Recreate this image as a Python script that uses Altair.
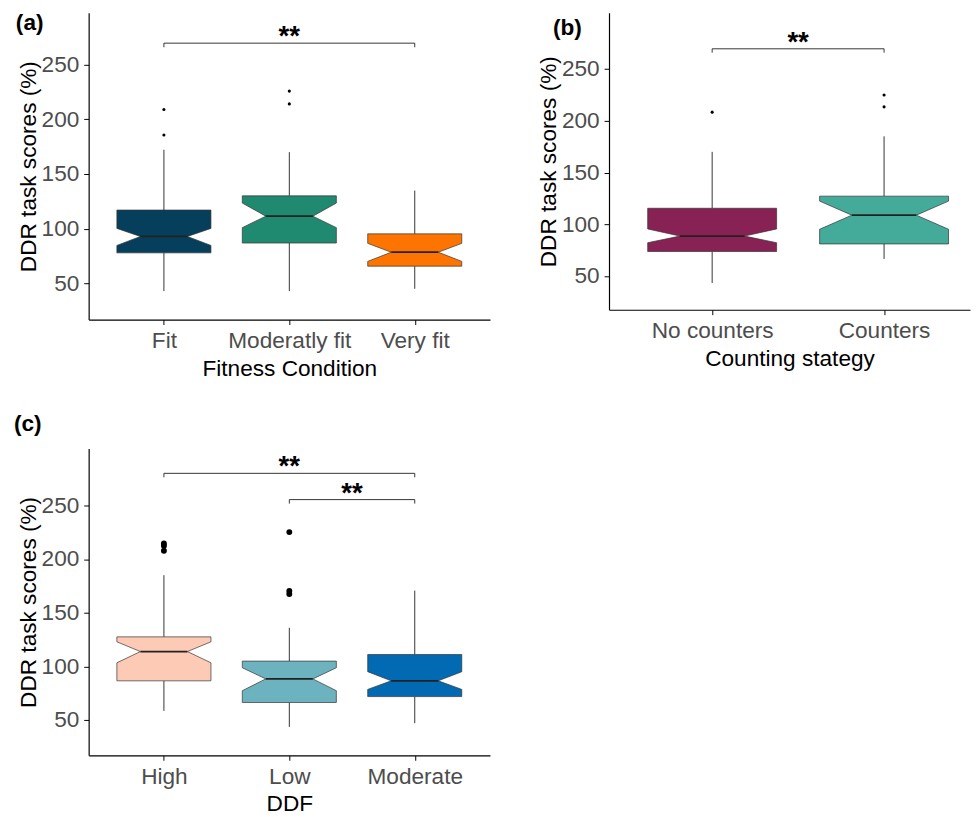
import altair as alt
import pandas as pd

FONT = "Liberation Sans"
Y_TICKS = [50, 100, 150, 200, 250]
Y_TITLE = "DDR task scores (%)"

# ---------------- Panel (a): Fitness Condition ----------------
a_cats = ["Fit", "Moderatly fit", "Very fit"]
a_colors = ["#053f5c", "#1f8a70", "#fd7400"]
a_q1 = [77.8, 86.8, 65.6]
a_notch_lo = [84.6, 100.9, 70.0]
a_median = [92.8, 111.4, 78.4]
a_notch_hi = [100.2, 123.4, 86.5]
a_q3 = [117.0, 130.0, 95.2]
a_whisk_lo = [42.8, 42.8, 44.9]
a_whisk_hi = [172.2, 170.0, 134.8]
a_out_cat = ["Fit", "Fit", "Moderatly fit", "Moderatly fit"]
a_out_val = [209.0, 185.7, 225.9, 214.2]
a_sig_from = ["Fit"]
a_sig_to = ["Very fit"]
a_sig_y = [269.8]
a_sig_lab = ["**"]

# ---------------- Panel (b): Counting stategy ----------------
b_cats = ["No counters", "Counters"]
b_colors = ["#882255", "#44aa99"]
b_q1 = [73.7, 81.0]
b_notch_lo = [82.2, 95.2]
b_median = [88.6, 108.8]
b_notch_hi = [95.5, 122.4]
b_q3 = [115.5, 127.2]
b_whisk_lo = [43.3, 66.5]
b_whisk_hi = [170.0, 185.0]
b_out_cat = ["No counters", "Counters", "Counters"]
b_out_val = [208.4, 224.9, 213.5]
b_sig_from = ["No counters"]
b_sig_to = ["Counters"]
b_sig_y = [269.6]
b_sig_lab = ["**"]

# ---------------- Panel (c): DDF ----------------
c_cats = ["High", "Low", "Moderate"]
c_colors = ["#fdcab6", "#6db3bf", "#016ab3"]
c_q1 = [86.5, 66.3, 71.8]
c_notch_lo = [103.3, 77.3, 78.5]
c_median = [113.8, 88.3, 86.5]
c_notch_hi = [122.9, 98.7, 95.0]
c_q3 = [127.5, 104.9, 111.0]
c_whisk_lo = [58.5, 43.5, 47.0]
c_whisk_hi = [185.0, 136.0, 170.6]
c_out_cat = ["High", "High", "High", "Low", "Low", "Low"]
c_out_val = [214.5, 212.5, 207.8, 225.2, 170.3, 167.5]
c_sig_from = ["High", "Low"]
c_sig_to = ["Moderate", "Moderate"]
c_sig_y = [280.0, 255.5]
c_sig_lab = ["**", "**"]

BOX_HALF = 0.375
NOTCH_HALF = 0.1875
TIP = 3.7


def panel(cats, colors, q1, nlo, med, nhi, q3, wlo, whi, out_cat, out_val,
          sig_from, sig_to, sig_y, sig_lab, xtitle, label, label_xy,
          ydom, xdom, width, height, pt_size):
    pos = {c: i + 1 for i, c in enumerate(cats)}
    lab_expr = " : ".join(
        f"datum.value == {i + 1} ? '{c}'" for i, c in enumerate(cats)) + " : ''"

    xs = alt.Scale(domain=xdom, nice=False, zero=False)
    ys = alt.Scale(domain=ydom, nice=False, zero=False)
    xax = alt.Axis(values=list(range(1, len(cats) + 1)), labelExpr=lab_expr,
                   title=xtitle, labelFlush=False, labelOverlap=False)
    yax = alt.Axis(values=Y_TICKS, title=Y_TITLE)

    def X(f):
        return alt.X(f, type="quantitative", scale=xs, axis=xax)

    def Y(f):
        return alt.Y(f, type="quantitative", scale=ys, axis=yax)

    rows = []
    for i, c in enumerate(cats):
        x = i + 1
        pts = [(q1[i], BOX_HALF), (nlo[i], BOX_HALF), (med[i], NOTCH_HALF),
               (nhi[i], BOX_HALF), (q3[i], BOX_HALF)]
        for y, h in pts:
            rows.append({"cat": c, "y": y, "xl": x - h, "xr": x + h,
                         "fill": colors[i]})
    boxdf = pd.DataFrame(rows)

    stats = pd.DataFrame({
        "cat": cats,
        "x": [pos[c] for c in cats],
        "mlo": [pos[c] - NOTCH_HALF for c in cats],
        "mhi": [pos[c] + NOTCH_HALF for c in cats],
        "q1": q1, "q3": q3, "med": med, "wlo": wlo, "whi": whi,
    })
    outdf = pd.DataFrame({"x": [pos[c] for c in out_cat], "v": out_val})
    sigdf = pd.DataFrame({
        "x1": [pos[c] for c in sig_from],
        "x2": [pos[c] for c in sig_to],
        "xm": [(pos[a] + pos[b]) / 2 for a, b in zip(sig_from, sig_to)],
        "y": sig_y,
        "ytip": [v - TIP for v in sig_y],
        "lab": sig_lab,
    })

    whisk_hi = alt.Chart(stats).mark_rule(color="#333333", strokeWidth=1).encode(
        x=X("x"), y=Y("q3"), y2="whi")
    whisk_lo = alt.Chart(stats).mark_rule(color="#333333", strokeWidth=1).encode(
        x=X("x"), y=Y("q1"), y2="wlo")
    box = alt.Chart(boxdf).mark_area(
        orient="horizontal", stroke="#333333", strokeWidth=0.7, opacity=1
    ).encode(
        y=Y("y"),
        x=alt.X("xl", type="quantitative", scale=xs, axis=xax, stack=None),
        x2="xr",
        fill=alt.Fill("fill:N", scale=None),
        detail="cat:N",
    )
    median = alt.Chart(stats).mark_rule(color="#222222", strokeWidth=1.8).encode(
        x=X("mlo"), x2="mhi", y=Y("med"))
    outl = alt.Chart(outdf).mark_circle(color="black", size=pt_size, opacity=1).encode(
        x=X("x"), y=Y("v"))
    br_h = alt.Chart(sigdf).mark_rule(color="#333333", strokeWidth=1).encode(
        x=X("x1"), x2="x2", y=Y("y"))
    br_l = alt.Chart(sigdf).mark_rule(color="#333333", strokeWidth=1).encode(
        x=X("x1"), y=Y("y"), y2="ytip")
    br_r = alt.Chart(sigdf).mark_rule(color="#333333", strokeWidth=1).encode(
        x=X("x2"), y=Y("y"), y2="ytip")
    stars = alt.Chart(sigdf).mark_text(
        font=FONT, fontSize=28, fontWeight="bold", color="black",
        baseline="alphabetic", dy=2
    ).encode(x=X("xm"), y=Y("y"), text="lab:N")
    lab = alt.Chart(pd.DataFrame({"t": [label]})).mark_text(
        font=FONT, fontSize=23, fontWeight="bold", color="black",
        align="left", baseline="alphabetic"
    ).encode(text="t:N", x=alt.value(label_xy[0]), y=alt.value(label_xy[1]))

    return alt.layer(whisk_hi, whisk_lo, box, median, outl, br_h, br_l, br_r,
                     stars, lab).properties(width=width, height=height)


pa = panel(a_cats, a_colors, a_q1, a_notch_lo, a_median, a_notch_hi, a_q3,
           a_whisk_lo, a_whisk_hi, a_out_cat, a_out_val,
           a_sig_from, a_sig_to, a_sig_y, a_sig_lab,
           "Fitness Condition", "(a)", (-74, 17.5),
           [16.7, 297.7], [0.4, 3.6], 408, 312, 10)

pb = panel(b_cats, b_colors, b_q1, b_notch_lo, b_median, b_notch_hi, b_q3,
           b_whisk_lo, b_whisk_hi, b_out_cat, b_out_val,
           b_sig_from, b_sig_to, b_sig_y, b_sig_lab,
           "Counting stategy", "(b)", (-57, 22.5),
           [17.4, 304.5], [0.4, 2.5], 367, 302, 10)

pc = panel(c_cats, c_colors, c_q1, c_notch_lo, c_median, c_notch_hi, c_q3,
           c_whisk_lo, c_whisk_hi, c_out_cat, c_out_val,
           c_sig_from, c_sig_to, c_sig_y, c_sig_lab,
           "DDF", "(c)", (-76, -17.5),
           [17.0, 303.2], [0.4, 3.6], 408, 312, 36)

chart = alt.vconcat(
    alt.hconcat(pa, pb, spacing=47),
    pc,
    spacing=33,
).properties(
    padding={"left": 5, "top": -3, "right": 0, "bottom": 0},
    background="white",
).configure_axis(
    domainColor="black", domainWidth=1.2, tickColor="black", tickWidth=1,
    tickSize=5, grid=False,
    labelFont=FONT, labelFontSize=23, labelColor="#4d4d4d",
    titleFont=FONT, titleFontSize=23, titleFontWeight="normal", titleColor="black",
).configure_axisX(
    labelPadding=5.5, titlePadding=5,
).configure_axisY(
    labelPadding=5, titlePadding=1,
).configure_view(stroke="transparent")

chart.save("out.html", embed_options={"renderer": "svg", "actions": False})
